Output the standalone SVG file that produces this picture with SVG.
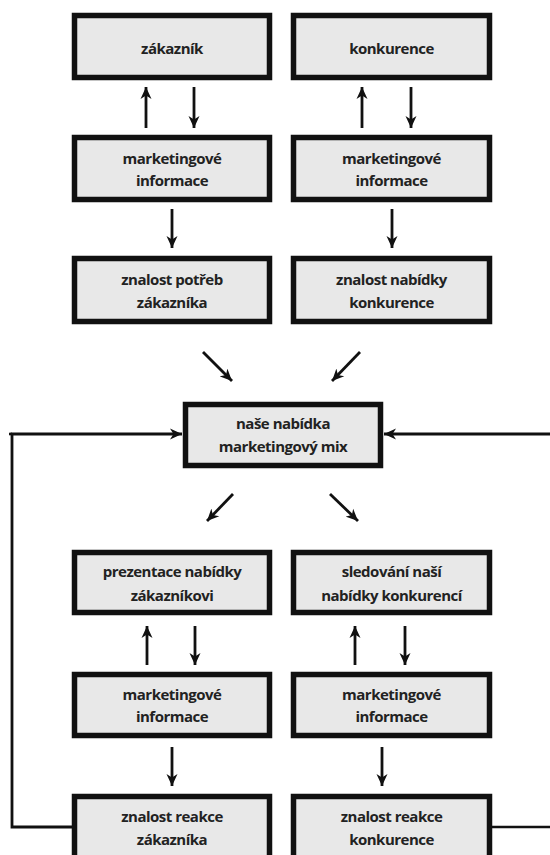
<svg xmlns="http://www.w3.org/2000/svg" width="550" height="855" viewBox="0 0 550 855">
<defs>
<marker id="ah" markerUnits="userSpaceOnUse" markerWidth="13" markerHeight="12" refX="12" refY="6" orient="auto">
<path d="M0,0.5 L12,6 L0,11.5 L3.5,6 z" fill="#111"/>
</marker>
<style>
.box{fill:#e8e8e8;stroke:#111;stroke-width:5.5}
.t{font-family:"Open Sans","Noto Sans",sans-serif;font-weight:700;font-size:15px;fill:#222;text-anchor:middle;letter-spacing:-0.5px}
.c{stroke:#111;stroke-width:2.6;fill:none}
.a{stroke:#111;stroke-width:2.8;fill:none;marker-end:url(#ah)}
</style>
</defs>
<rect width="550" height="855" fill="#fff"/>
<g id="connectors">
<line class="a" x1="146" y1="128" x2="146" y2="87"/>
<line class="a" x1="194" y1="87" x2="194" y2="128"/>
<line class="a" x1="362" y1="128" x2="362" y2="87"/>
<line class="a" x1="411" y1="87" x2="411" y2="128"/>
<line class="a" x1="172" y1="209" x2="172" y2="248"/>
<line class="a" x1="392" y1="209" x2="392" y2="248"/>
<line class="a" x1="203" y1="352" x2="232" y2="381"/>
<line class="a" x1="360" y1="352" x2="332" y2="381"/>
<path class="a" d="M72,827 H12 V434 H182"/>
<line class="c" x1="9" y1="434" x2="12" y2="434"/>
<line class="c" x1="492" y1="827" x2="550" y2="827"/>
<line class="a" x1="550" y1="434" x2="384" y2="434"/>
<line class="a" x1="233" y1="494" x2="207" y2="521"/>
<line class="a" x1="330" y1="494" x2="358" y2="521"/>
<line class="a" x1="147" y1="665" x2="147" y2="626"/>
<line class="a" x1="195" y1="626" x2="195" y2="665"/>
<line class="a" x1="355" y1="665" x2="355" y2="626"/>
<line class="a" x1="405" y1="626" x2="405" y2="665"/>
<line class="a" x1="172" y1="747" x2="172" y2="786"/>
<line class="a" x1="382" y1="747" x2="382" y2="786"/>
</g>
<g id="zakaznik"><rect class="box" x="74.5" y="15.5" width="195" height="62"/><text class="t" x="172" y="54">zákazník</text></g>
<g id="konkurence"><rect class="box" x="293.5" y="15.5" width="196" height="62"/><text class="t" x="391.5" y="54">konkurence</text></g>
<g id="mkt-info-1"><rect class="box" x="74.5" y="137.5" width="195" height="62"/><text class="t" x="172" y="164">marketingové</text><text class="t" x="172" y="186">informace</text></g>
<g id="mkt-info-2"><rect class="box" x="293.5" y="137.5" width="196" height="62"/><text class="t" x="391.5" y="164">marketingové</text><text class="t" x="391.5" y="186">informace</text></g>
<g id="znalost-potreb"><rect class="box" x="74.5" y="258.5" width="195" height="63"/><text class="t" x="172" y="285">znalost potřeb</text><text class="t" x="172" y="308">zákazníka</text></g>
<g id="znalost-nabidky"><rect class="box" x="293.5" y="258.5" width="196" height="63"/><text class="t" x="391.5" y="285">znalost nabídky</text><text class="t" x="391.5" y="308">konkurence</text></g>
<g id="nase-nabidka"><rect class="box" x="185.5" y="404.5" width="195" height="61"/><text class="t" x="283" y="429">naše nabídka</text><text class="t" x="283" y="452">marketingový mix</text></g>
<g id="prezentace"><rect class="box" x="74.5" y="552.5" width="195" height="60"/><text class="t" x="172" y="577">prezentace nabídky</text><text class="t" x="172" y="601">zákazníkovi</text></g>
<g id="sledovani"><rect class="box" x="293.5" y="552.5" width="196" height="60"/><text class="t" x="391.5" y="577">sledování naší</text><text class="t" x="391.5" y="601">nabídky konkurencí</text></g>
<g id="mkt-info-3"><rect class="box" x="74.5" y="674.5" width="195" height="61"/><text class="t" x="172" y="700">marketingové</text><text class="t" x="172" y="722">informace</text></g>
<g id="mkt-info-4"><rect class="box" x="293.5" y="674.5" width="196" height="61"/><text class="t" x="391.5" y="700">marketingové</text><text class="t" x="391.5" y="722">informace</text></g>
<g id="reakce-zakaznika"><rect class="box" x="74.5" y="796.5" width="195" height="64"/><text class="t" x="172" y="822">znalost reakce</text><text class="t" x="172" y="845">zákazníka</text></g>
<g id="reakce-konkurence"><rect class="box" x="293.5" y="796.5" width="196" height="64"/><text class="t" x="391.5" y="822">znalost reakce</text><text class="t" x="391.5" y="845">konkurence</text></g>
</svg>
